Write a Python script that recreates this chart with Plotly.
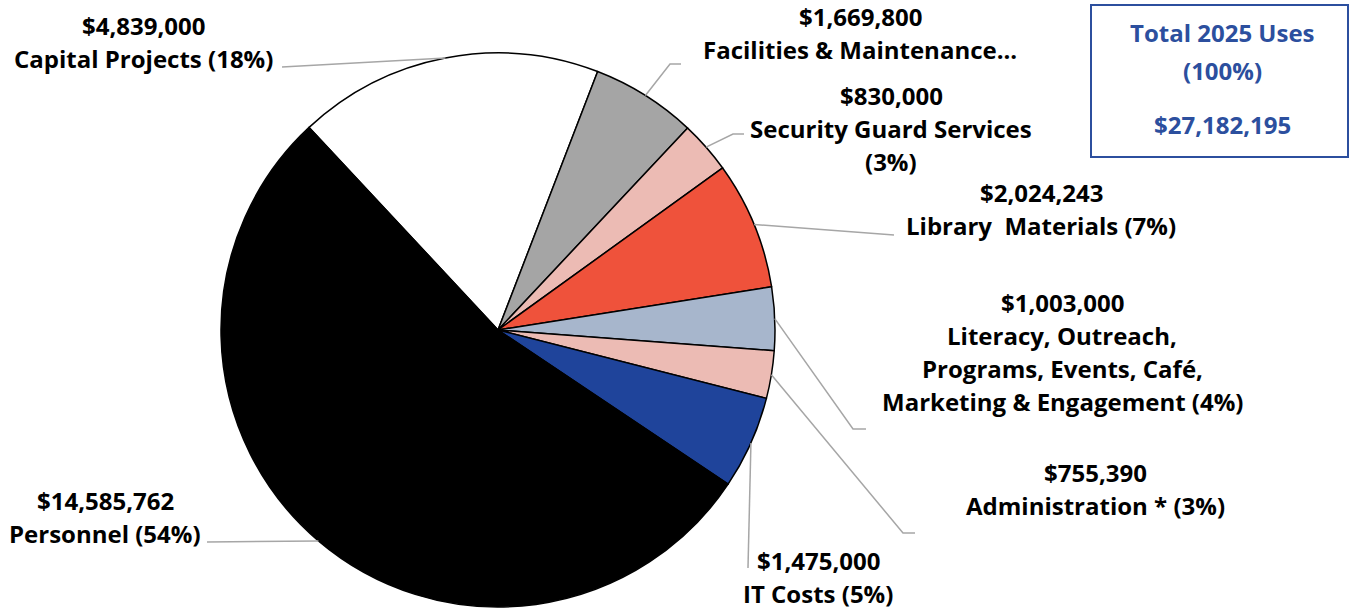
import math
import plotly.graph_objects as go

# ---- data ----
categories = [
    "Capital Projects",
    "Facilities & Maintenance",
    "Security Guard Services",
    "Library Materials",
    "Literacy, Outreach, Programs, Events, Café, Marketing & Engagement",
    "Administration *",
    "IT Costs",
    "Personnel",
]
amounts = [4839000, 1669800, 830000, 2024243, 1003000, 755390, 1475000, 14585762]
label_lines = [
    ["Capital Projects ({p})"],
    ["Facilities & Maintenance..."],
    ["Security Guard Services", "({p})"],
    ["Library\u00a0 Materials ({p})"],
    ["Literacy, Outreach,", "Programs, Events, Café,", "Marketing & Engagement ({p})"],
    ["Administration * ({p})"],
    ["IT Costs ({p})"],
    ["Personnel ({p})"],
]
slice_colors = ["#FFFFFF", "#A5A5A5", "#ECBBB4", "#EF523B", "#A7B6CC", "#ECBBB4", "#1F449B", "#000000"]
total_title = ["Total 2025 Uses", "(100%)", ""]

# ---- layout constants (pixels) ----
W, H = 1350, 610
CX, CY, R = 498, 330, 277
ROTATION = -43            # degrees clockwise from 12 o'clock where the first slice starts
FONT = "Open Sans"
FS = 24
LINE_PITCH = 33
TEXT_COLOR = "#000000"
BLUE = "#2C4F9E"
LEADER_COLOR = "#A6A6A6"

# label block centre (x, first-line y) and leader elbow points
label_pos = [(143, 25), (860, 16), (891, 95), (1041, 192), (1062, 302), (1095, 472), (818, 560), (105, 500)]
leader_pts = [
    [(282, 67)],
    [(670, 64), (681, 64)],
    [(733, 134), (744, 134)],
    [(894, 235)],
    [(853, 429), (866, 429)],
    [(903, 533), (915, 533)],
    [(748, 568)],
    [(207, 542)],
]


def px(x):
    return x / W


def py(y):
    return 1 - y / H


total = sum(amounts)

fig = go.Figure()
fig.add_trace(go.Pie(
    labels=categories,
    values=amounts,
    sort=False,
    direction="clockwise",
    rotation=ROTATION,
    marker=dict(colors=slice_colors, line=dict(color="#000000", width=1.5)),
    textinfo="none",
    hoverinfo="label+value+percent",
    showlegend=False,
    domain=dict(x=[px(CX - R), px(CX + R)], y=[py(CY + R), py(CY - R)]),
))

shapes = []
annotations = []

cum = 0.0
for i, v in enumerate(amounts):
    mid = (cum + v / 2) / total
    cum += v
    ang = math.radians(ROTATION + 360 * mid)
    sx = CX + R * math.sin(ang)
    sy = CY - R * math.cos(ang)
    pts = [(sx, sy)] + leader_pts[i]
    path = "M " + " L ".join(f"{px(x):.5f},{py(y):.5f}" for x, y in pts)
    shapes.append(dict(type="path", path=path, xref="paper", yref="paper",
                       line=dict(color=LEADER_COLOR, width=1.5), layer="above"))

    pct = f"{round(100 * v / total)}%"
    lines = [f"${v:,.0f}"] + [t.format(p=pct) for t in label_lines[i]]
    lx, ly = label_pos[i]
    for k, t in enumerate(lines):
        annotations.append(dict(
            x=px(lx), y=py(ly + k * LINE_PITCH), xref="paper", yref="paper",
            text=f"<b>{t}</b>", showarrow=False, xanchor="center", yanchor="middle",
            font=dict(family=FONT, size=FS, color=TEXT_COLOR),
        ))

# total box
shapes.append(dict(type="rect", xref="paper", yref="paper",
                   x0=px(1091), x1=px(1348), y0=py(157), y1=py(5),
                   line=dict(color=BLUE, width=2), fillcolor="rgba(0,0,0,0)"))
box_lines = total_title + [f"${total:,.0f}"]
box_y = [32, 70, 97, 124]
for t, y in zip(box_lines, box_y):
    if t:
        annotations.append(dict(
            x=px(1222), y=py(y), xref="paper", yref="paper",
            text=f"<b>{t}</b>", showarrow=False, xanchor="center", yanchor="middle",
            font=dict(family=FONT, size=FS, color=BLUE),
        ))

fig.update_layout(
    width=W, height=H,
    margin=dict(l=0, r=0, t=0, b=0),
    paper_bgcolor="#FFFFFF",
    plot_bgcolor="#FFFFFF",
    shapes=shapes,
    annotations=annotations,
)

fig.write_html("out.html", config={"displayModeBar": False})
